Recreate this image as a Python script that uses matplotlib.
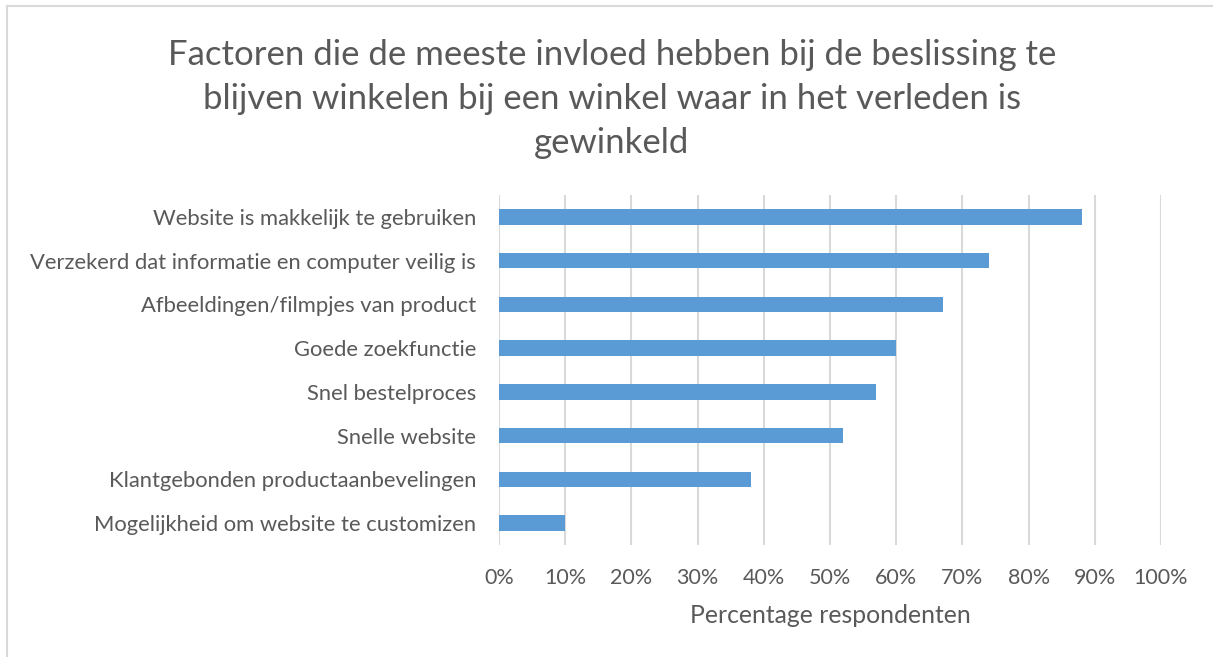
import matplotlib
matplotlib.use("Agg")
import matplotlib.pyplot as plt
from matplotlib.ticker import FuncFormatter, MultipleLocator
from matplotlib.lines import Line2D

categories = [
    "Website is makkelijk te gebruiken",
    "Verzekerd dat informatie en computer veilig is",
    "Afbeeldingen/filmpjes van product",
    "Goede zoekfunctie",
    "Snel bestelproces",
    "Snelle website",
    "Klantgebonden productaanbevelingen",
    "Mogelijkheid om website te customizen",
]
values = [88, 74, 67, 60, 57, 52, 38, 10]

title = ("Factoren die de meeste invloed hebben bij de beslissing te\n"
         "blijven winkelen bij een winkel waar in het verleden is\n"
         "gewinkeld")
xlabel = "Percentage respondenten"

TXT = "#595959"
plt.rcParams['font.family'] = ['Lato', 'DejaVu Sans']

fig = plt.figure(figsize=(12.13, 6.57), dpi=100)
ax = fig.add_axes([499/1213, 1-545/657, (1161-499)/1213, (545-195)/657])

y = list(range(len(categories)))
ax.barh(y, values, height=0.355, color="#5b9bd5", zorder=3)
ax.set_ylim(len(categories)-0.5, -0.5)
ax.set_xlim(0, 100)
ax.set_yticks(y)
ax.set_yticklabels(categories, fontsize=15.8, color=TXT)
ax.xaxis.set_major_locator(MultipleLocator(10))
ax.xaxis.set_major_formatter(FuncFormatter(lambda v, p: f"{int(round(v))}%"))
ax.tick_params(axis='x', labelsize=15.5, labelcolor=TXT, length=0, pad=16.5)
ax.tick_params(axis='y', length=0, pad=16.5)
ax.grid(axis='x', color="#d9d9d9", linewidth=1.5, zorder=0)
for s in ax.spines.values():
    s.set_visible(False)
ax.set_xlabel(xlabel, fontsize=17.8, color=TXT, labelpad=11.5)

fig.text(612/1213, 1-99/657, title, ha='center', va='center', fontsize=25,
         color=TXT, linespacing=1.47)

fig.add_artist(Line2D([7/1213, 7/1213], [0, 1-6/657], transform=fig.transFigure,
                      color="#d9d9d9", linewidth=1.5))
fig.add_artist(Line2D([7/1213, 1], [1-6/657, 1-6/657], transform=fig.transFigure,
                      color="#d9d9d9", linewidth=1.5))

fig.savefig("out.png", dpi=100)
